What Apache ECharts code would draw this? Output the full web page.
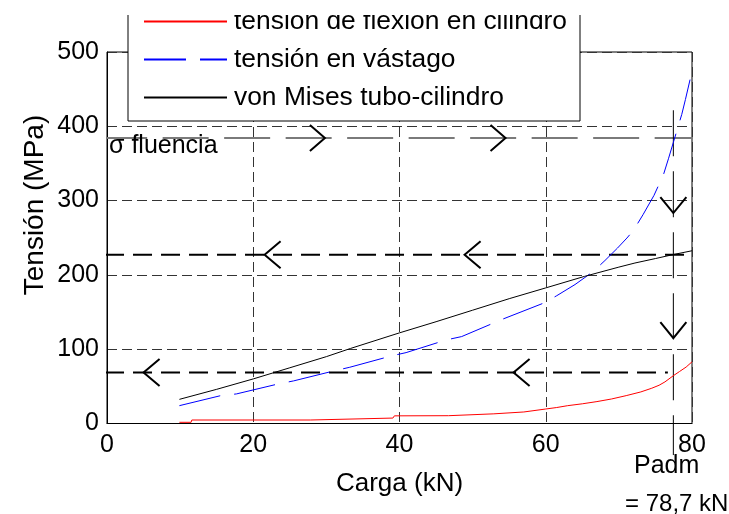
<!DOCTYPE html>
<html>
<head>
<meta charset="utf-8">
<script src="https://cdn.jsdelivr.net/npm/echarts@6/dist/echarts.min.js"></script>
<style>
html,body{margin:0;padding:0;background:#fff;}
#c{width:729px;height:514px;}
</style>
</head>
<body>
<div id="c"></div>
<script>
// ---- data ----
const seriesNames = ['tensión de flexión en cilindro', 'tensión en vástago', 'von Mises tubo-cilindro'];
const xTicks = [0, 20, 40, 60, 80];
const yTicks = [0, 100, 200, 300, 400, 500];
const flexion = [[9.9,1.6],[11.5,1.6],[11.6,4.7],[27.8,4.7],[28,7.3],[39.1,7.3],[39.3,10.3],[46.7,10.5],[46.9,12.8],[52.9,13],[53.1,15.2],[57,15.5],[57.2,18],[60,19.5],[61.5,21.5],[63,24],[65,26.5],[67,29.5],[69,33],[71,37.5],[73,42.5],[74.5,47.5],[75.5,51.5],[76.3,56],[77.4,64],[78.3,70],[79.2,76],[80,83]];
const vastago = [[9.9,24],[15.55,37.5],[17.7,39.8],[23.4,53.2],[25.5,57.3],[31.2,71.2],[33.2,75.7],[38.9,91],[40.9,95.4],[46.4,112.5],[48.5,117],[54.2,140.8],[59.7,162],[61.5,172],[64,187],[66.5,204.6],[68.1,219.4],[69.8,236],[71.1,249.6],[72,260],[73.3,281],[74.8,307],[76.1,335],[76.8,357],[77.5,380],[78.6,416],[79.1,436],[80,474]];
const vonMises = [[9.9,32.5],[15,46],[20,60],[25,75],[30,90],[33.3,101],[40,122],[45,137],[50,152.5],[55,168],[60,182.5],[65.3,198],[70,210.5],[72.2,216],[75,222],[77.5,227.5],[80,232.5]];
// annotation lines
const sigmaFluencia = 384.3;
const sigmaLine = [[-0.8, sigmaFluencia], [80.6, sigmaFluencia]];
const padm = 77.45;
const padmLine = [[padm, 421.6], [padm, -42.5]];
const upperLine = [[-4.1, 227], [79.0, 227]];
const lowerLine = [[-4.1, 68.7], [76.7, 68.7]];
const arrowsRight = [[29.8, sigmaFluencia], [54.5, sigmaFluencia]];
const arrowsLeft = [[21.55, 227], [48.9, 227], [5.0, 68.7], [55.6, 68.7]];
const arrowsDown = [[padm, 283.3], [padm, 114.8]];
const labels = { sigma: 'σ fluencia', padm: 'Padm', padmValue: '= 78,7 kN', xName: 'Carga (kN)', yName: 'Tensión (MPa)' };

const FONT = "'Liberation Sans', Arial, Helvetica, sans-serif";

function chevron(dir) {
  return function (params, api) {
    const p = api.coord([api.value(0), api.value(1)]);
    let pts;
    if (dir === 'r') pts = [[p[0] - 15, p[1] - 13], [p[0], p[1]], [p[0] - 15, p[1] + 13]];
    else if (dir === 'l') pts = [[p[0] + 16, p[1] - 13.5], [p[0], p[1]], [p[0] + 16, p[1] + 13.5]];
    else pts = [[p[0] - 13, p[1] - 16], [p[0], p[1]], [p[0] + 13, p[1] - 16]];
    return { type: 'polyline', shape: { points: pts }, style: { stroke: '#000', lineWidth: 2, fill: null } };
  };
}

const chart = echarts.init(document.getElementById('c'), null, { renderer: 'canvas' });
const option = {
  animation: false,
  backgroundColor: '#fff',
  textStyle: { fontFamily: FONT },
  grid: { left: 107, right: 37, top: 52, bottom: 90.5, show: true, borderColor: '#000', borderWidth: 1, backgroundColor: 'transparent' },
  xAxis: {
    type: 'value', min: xTicks[0], max: xTicks[xTicks.length - 1], interval: 20,
    name: labels.xName, nameLocation: 'middle', nameGap: 47.5,
    nameTextStyle: { fontSize: 26, color: '#000', fontFamily: FONT, lineHeight: 26 },
    axisLine: { lineStyle: { color: '#000', width: 1 } },
    axisTick: { show: false },
    axisLabel: { fontSize: 25, color: '#000', margin: 9, fontFamily: FONT, lineHeight: 25 },
    splitLine: { show: true, lineStyle: { color: '#333', width: 1, type: [10, 5] } }
  },
  yAxis: {
    type: 'value', min: yTicks[0], max: yTicks[yTicks.length - 1], interval: 100,
    axisLine: { lineStyle: { color: '#000', width: 1 } },
    axisTick: { show: false },
    axisLabel: { fontSize: 25, color: '#000', margin: 8, fontFamily: FONT },
    splitLine: { show: true, lineStyle: { color: '#333', width: 1, type: [10, 5] } }
  },
  legend: {
    orient: 'vertical', left: 143, top: 8.5, z: 10,
    itemWidth: 83, itemHeight: 14, itemGap: 12,
    padding: 0,
    data: seriesNames,
    selectedMode: false,
    itemStyle: { opacity: 0, borderWidth: 0 },
    textStyle: { fontSize: 26.4, color: '#000', fontFamily: FONT, lineHeight: 26, padding: [0, 0, 0, 2] }
  },
  graphic: [
    { type: 'rect', z: 5, shape: { x: 128, y: -10, width: 452, height: 131 }, style: { fill: '#fff', stroke: '#000', lineWidth: 1 } },
    { type: 'rect', z: 20, shape: { x: 0, y: 0, width: 729, height: 15 }, style: { fill: '#fff' } },
    { type: 'text', z: 6, x: 35, y: 205, rotation: Math.PI / 2,
      style: { text: labels.yName, fill: '#000', font: '28px ' + FONT, align: 'center', verticalAlign: 'middle' } },
    { type: 'text', z: 6, left: 109, top: 134, style: { text: labels.sigma, fill: '#000', font: '25px ' + FONT } },
    { type: 'text', z: 6, left: 634, top: 454, style: { text: labels.padm, fill: '#000', font: '25px ' + FONT } },
    { type: 'text', z: 6, left: 625, top: 492, style: { text: labels.padmValue, fill: '#000', font: '24px ' + FONT } }
  ],
  series: [
    { name: seriesNames[0], type: 'line', data: flexion, symbol: 'none', showSymbol: false, z: 3,
      lineStyle: { color: '#ff0000', width: 1 }, itemStyle: { color: '#ff0000' } },
    { name: seriesNames[1], type: 'line', data: vastago, symbol: 'none', showSymbol: false, z: 3,
      lineStyle: { color: '#0000ff', width: 1, type: [42, 14] }, itemStyle: { color: '#0000ff' } },
    { name: seriesNames[2], type: 'line', data: vonMises, symbol: 'none', showSymbol: false, z: 3,
      lineStyle: { color: '#000000', width: 1 }, itemStyle: { color: '#000000' } },
    { name: 'sigma', type: 'line', data: sigmaLine, symbol: 'none', clip: false, silent: true, z: 2,
      lineStyle: { color: '#7a7a7a', width: 2, type: [46, 15.5] } },
    { name: 'upper', type: 'line', data: upperLine, symbol: 'none', clip: false, silent: true, z: 2,
      lineStyle: { color: '#000', width: 2, type: [19, 9] } },
    { name: 'lower', type: 'line', data: lowerLine, symbol: 'none', clip: false, silent: true, z: 2,
      lineStyle: { color: '#000', width: 2, type: [19, 9] } },
    { name: 'padm', type: 'line', data: padmLine, symbol: 'none', clip: false, silent: true, z: 2,
      lineStyle: { color: '#000', width: 1, type: [46, 15] } },
    { name: 'arrR', type: 'custom', data: arrowsRight, renderItem: chevron('r'), silent: true, z: 4, clip: false },
    { name: 'arrL', type: 'custom', data: arrowsLeft, renderItem: chevron('l'), silent: true, z: 4, clip: false },
    { name: 'arrD', type: 'custom', data: arrowsDown, renderItem: chevron('d'), silent: true, z: 4, clip: false }
  ]
};
chart.setOption(option);
</script>
</body>
</html>
